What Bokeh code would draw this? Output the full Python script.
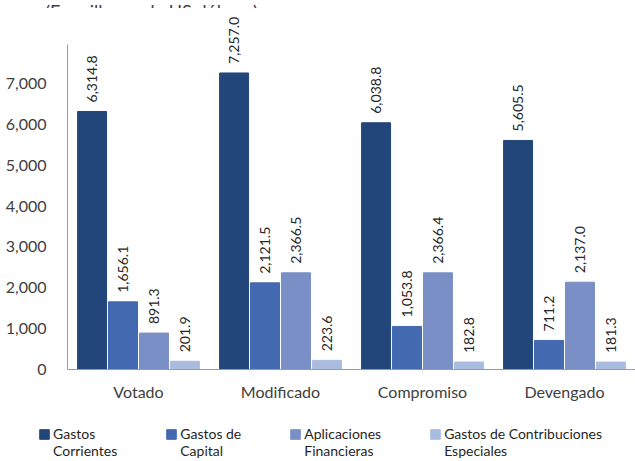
import numpy as np
from bokeh.plotting import figure
from bokeh.layouts import column
from bokeh.models import (Range1d, FixedTicker, NumeralTickFormatter, Legend,
                          LegendItem, ColumnDataSource)
from bokeh.core.properties import value
from bokeh.embed import file_html
from bokeh.resources import INLINE

categories = ["Votado", "Modificado", "Compromiso", "Devengado"]
series_names = ["Gastos\nCorrientes", "Gastos de\nCapital", "Aplicaciones\nFinancieras",
                "Gastos de Contribuciones\nEspeciales"]
gastos_corrientes = [6314.8, 7257.0, 6038.8, 5605.5]
gastos_capital = [1656.1, 2121.5, 1053.8, 711.2]
aplicaciones_financieras = [891.3, 2366.5, 2366.4, 2137.0]
contribuciones_especiales = [201.9, 223.6, 182.8, 181.3]
y_ticks = [0, 1000, 2000, 3000, 4000, 5000, 6000, 7000]
title_text = "(En millones de US dólares)"

series = [gastos_corrientes, gastos_capital, aplicaciones_financieras, contribuciones_especiales]
colors = ["#23467A", "#4369B0", "#7A8FC6", "#A9BCE0"]
offsets = [-0.327, -0.109, 0.109, 0.327]
bar_w = 0.204

FONT = "Lato"
TXT = "#404040"

# ---- title strip (only the bottom of the title is visible, as in the reference) ----
tf = figure(width=635, height=8, output_backend="svg", toolbar_location=None,
            x_range=Range1d(0, 635), y_range=Range1d(0, 8),
            x_axis_location=None, y_axis_location=None,
            min_border_left=0, min_border_right=0, min_border_top=0,
            min_border_bottom=0)
tf.frame_align = False
tf.outline_line_color = None
tf.xgrid.visible = False
tf.ygrid.visible = False
tf.text(x=[151], y=[2], text=[title_text], text_align="center",
        text_baseline="alphabetic", text_font=value(FONT),
        text_font_size="18px", text_color=TXT)

# ---- main chart ----
p = figure(width=635, height=400, output_backend="svg", toolbar_location=None,
           x_range=Range1d(-0.5, 3.5), y_range=Range1d(0, 8835),
           min_border_left=67, min_border_right=0, min_border_top=0,
           min_border_bottom=39)
p.frame_align = False
p.outline_line_color = None
p.xgrid.visible = False
p.ygrid.visible = False

idx = np.arange(len(categories))
renderers = []
for vals, col, off in zip(series, colors, offsets):
    src = ColumnDataSource(dict(x=idx + off, top=vals,
                                lab=[f"{v:,.1f}" for v in vals]))
    r = p.vbar(x="x", top="top", width=bar_w, source=src, fill_color=col,
               line_color=col)
    renderers.append(r)
    p.text(x="x", y="top", text="lab", source=src, angle=np.pi / 2,
           text_align="left", text_baseline="middle", y_offset=-9,
           text_font=value(FONT), text_font_size="14px", text_color="#262626")

p.xaxis.ticker = FixedTicker(ticks=list(idx))
p.xaxis.major_label_overrides = {int(i): c for i, c in zip(idx, categories)}
p.xaxis.major_tick_line_color = None
p.xaxis.minor_tick_line_color = None
p.xaxis.axis_line_color = "#9a9a9a"
p.xaxis.major_label_standoff = 6
p.xaxis.major_label_text_font = FONT
p.xaxis.major_label_text_font_size = "16px"
p.xaxis.major_label_text_color = TXT

p.yaxis.ticker = FixedTicker(ticks=y_ticks)
p.yaxis.bounds = (0, 7950)
p.yaxis.formatter = NumeralTickFormatter(format="0,0")
p.yaxis.major_tick_line_color = None
p.yaxis.minor_tick_line_color = None
p.yaxis.axis_line_color = "#9a9a9a"
p.yaxis.major_label_standoff = 15
p.yaxis.major_label_text_font = FONT
p.yaxis.major_label_text_font_size = "16px"
p.yaxis.major_label_text_color = TXT

# ---- legend strip ----
lg = figure(width=635, height=53, output_backend="svg", toolbar_location=None,
            x_range=Range1d(0, 1), y_range=Range1d(0, 1),
            x_axis_location=None, y_axis_location=None,
            min_border_left=38, min_border_right=0, min_border_top=0,
            min_border_bottom=0)
lg.frame_align = False
lg.outline_line_color = None
lg.xgrid.visible = False
lg.ygrid.visible = False
items = []
for name, col in zip(series_names, colors):
    r = lg.vbar(x=[-5], top=[0], width=0.1, fill_color=col, line_color=col)
    # a blank first line keeps the swatch level with the first text line
    items.append(LegendItem(label="\u00a0\n" + name, renderers=[r]))
legend = Legend(items=items, orientation="horizontal", location="top_left",
                glyph_width=12, glyph_height=12, label_standoff=3, spacing=48,
                padding=0, margin=0, border_line_color=None,
                background_fill_alpha=0, label_text_font=FONT,
                label_text_font_size="14px", label_text_line_height=1.35,
                label_text_color="#262626")
lg.add_layout(legend, "center")

layout = column(tf, p, lg, spacing=0)

open("out.html", "w").write(file_html(layout, INLINE))
